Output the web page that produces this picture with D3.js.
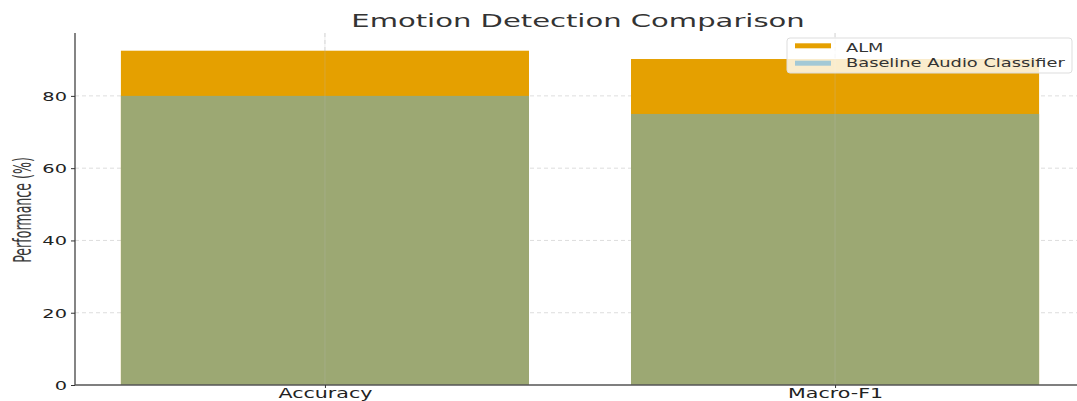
<!DOCTYPE html>
<html>
<head>
<meta charset="utf-8">
<script src="https://cdn.jsdelivr.net/npm/d3@7"></script>
<style>
  body { margin: 0; background: #fff; }
  svg { display: block; }
</style>
</head>
<body>
<svg id="chart" width="1077" height="401"></svg>
<script>
// Metrics compared and the two models' scores (%)
const categories = ["Accuracy", "Macro-F1"];
const almValues = [92.5, 90.2];
const baselineValues = [80, 75];
const yTicks = [0, 20, 40, 60, 80];
const seriesNames = ["ALM", "Baseline Audio Classifier"];

const W = 1077, H = 401;
const margin = { left: 75, top: 33, bottom: 16 };
const plotBottom = H - margin.bottom;
const stretch = 1.55; // wide lettering for horizontal text

const svg = d3.select("#chart");
const font = "'DejaVu Sans', Verdana, sans-serif";

const x = d3.scaleLinear().domain([-0.49, 1.49]).range([margin.left, margin.left + 1010]);
const y = d3.scaleLinear().domain([0, 97.4]).range([plotBottom, margin.top]);
const barW = x(0.8) - x(0);

const colAlm = "#e5a000";
const colOverlap = "#9ca873";
const colBaseLegend = "#a3c9d6";

// Grid lines (dashed, light)
const grid = svg.append("g");
grid.selectAll("line.h").data(yTicks.slice(1)).join("line")
  .attr("x1", margin.left).attr("x2", W)
  .attr("y1", d => y(d)).attr("y2", d => y(d))
  .attr("stroke", "#d4d4d4").attr("stroke-width", 0.8).attr("stroke-dasharray", "4,3");
grid.selectAll("line.v").data(categories.map((c, i) => i)).join("line")
  .attr("x1", d => x(d)).attr("x2", d => x(d))
  .attr("y1", margin.top).attr("y2", plotBottom)
  .attr("stroke", "#d4d4d4").attr("stroke-width", 0.8).attr("stroke-dasharray", "4,3");

// ALM bars
svg.append("g").selectAll("rect").data(almValues).join("rect")
  .attr("x", (d, i) => x(i) - barW / 2)
  .attr("width", barW)
  .attr("y", d => y(d))
  .attr("height", d => y(0) - y(d))
  .attr("fill", colAlm);

// Baseline bars overlaid
svg.append("g").selectAll("rect").data(baselineValues).join("rect")
  .attr("x", (d, i) => x(i) - barW / 2)
  .attr("width", barW)
  .attr("y", d => y(d))
  .attr("height", d => y(0) - y(d))
  .attr("fill", colOverlap);

// Vertical grid lines show faintly over the bars
svg.append("g").selectAll("line").data(categories.map((c, i) => i)).join("line")
  .attr("x1", d => x(d)).attr("x2", d => x(d))
  .attr("y1", margin.top).attr("y2", plotBottom)
  .attr("stroke", "#b8b8b8").attr("stroke-opacity", 0.35).attr("stroke-width", 0.8);

// Y axis
const yAxis = svg.append("g")
  .attr("transform", `translate(${margin.left},0)`)
  .call(d3.axisLeft(y).tickValues(yTicks).tickSize(4).tickPadding(6));
yAxis.select(".domain").attr("stroke", "#333").attr("stroke-width", 1.2)
  .attr("d", `M0,${margin.top}V${plotBottom}`);
yAxis.selectAll(".tick line").attr("stroke", "#333");
yAxis.selectAll(".tick text")
  .attr("font-family", font).attr("font-size", 12.5).attr("fill", "#222")
  .attr("x", -8 / stretch).attr("dy", "0.36em")
  .attr("transform", `scale(${stretch},1)`);

// X axis
const xAxis = svg.append("g")
  .attr("transform", `translate(0,${plotBottom})`)
  .call(d3.axisBottom(x).tickValues([0, 1]).tickFormat(i => categories[i]).tickSize(3).tickPadding(3));
xAxis.select(".domain").attr("stroke", "#555").attr("stroke-width", 1.4)
  .attr("d", `M${margin.left},0H${W}`);
xAxis.selectAll(".tick line").attr("stroke", "#333");
xAxis.selectAll(".tick text")
  .attr("font-family", font).attr("font-size", 13.3).attr("fill", "#222")
  .attr("y", 13.5).attr("dy", 0)
  .attr("transform", `scale(${stretch},1)`);

// Y label (narrow, tall lettering)
svg.append("text")
  .attr("transform", `translate(31,210) rotate(-90) scale(0.84,1.6)`)
  .attr("text-anchor", "middle")
  .attr("font-family", font).attr("font-size", 15).attr("fill", "#3a3a3a")
  .text("Performance (%)");

// Title
svg.append("text")
  .attr("transform", `translate(578,27) scale(1.57,1)`)
  .attr("text-anchor", "middle")
  .attr("font-family", font).attr("font-size", 18.5).attr("fill", "#333")
  .text("Emotion Detection Comparison");

// Legend
const lg = svg.append("g").attr("transform", "translate(787,38)");
lg.append("rect").attr("width", 285).attr("height", 35).attr("rx", 3)
  .attr("fill", "#fff").attr("fill-opacity", 0.8).attr("stroke", "#ddd");
const legendColors = [colAlm, colBaseLegend];
seriesNames.forEach((name, i) => {
  lg.append("rect").attr("x", 8).attr("y", 5.3 + i * 17.4).attr("width", 36).attr("height", 5)
    .attr("fill", legendColors[i]);
  lg.append("text")
    .attr("transform", `translate(59,${13.5 + i * 15.8}) scale(${stretch},1)`)
    .attr("font-family", font).attr("font-size", 11.5).attr("fill", "#333")
    .text(name);
});
</script>
</body>
</html>
